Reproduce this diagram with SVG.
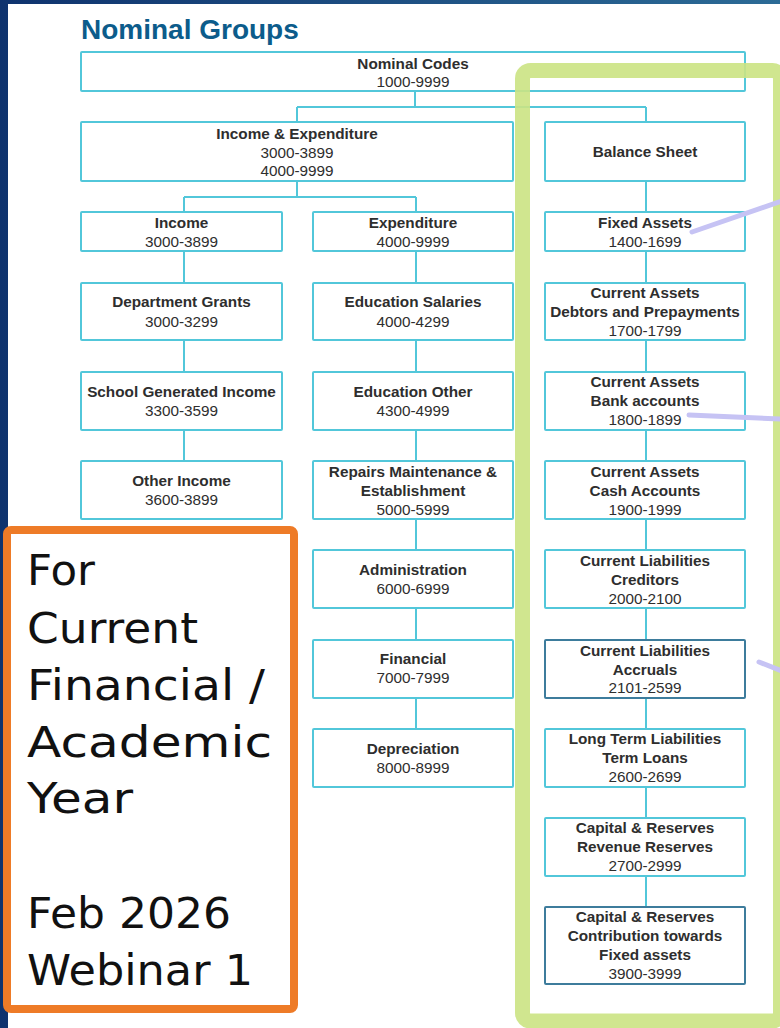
<svg xmlns="http://www.w3.org/2000/svg" width="780" height="1028" viewBox="0 0 780 1028">
<defs>
<linearGradient id="bg" x1="0" y1="0" x2="1" y2="0">
<stop offset="0" stop-color="#0f336e"/>
<stop offset="1" stop-color="#2c6b96"/>
</linearGradient>
<style>
.box{fill:#ffffff;stroke:#52c7da;stroke-width:2}
.dark{stroke:#3d7c9c}
.con{fill:none;stroke:#52c7da;stroke-width:2}
.lb{font-family:"Liberation Sans",Arial,sans-serif;font-size:15.3px;font-weight:bold;fill:#2e2e2e;text-anchor:middle}
.nm{font-family:"Liberation Sans",Arial,sans-serif;font-size:15.3px;fill:#2e2e2e;text-anchor:middle}
.big{font-family:"DejaVu Sans","Liberation Sans",sans-serif;font-size:42px;fill:#111111}
.lav{fill:none;stroke:#c6c3f4;stroke-width:5;stroke-linecap:round}
</style>
</defs>
<rect x="0" y="0" width="780" height="1028" fill="url(#bg)"/>
<rect x="8" y="4" width="772" height="1024" fill="#ffffff"/>
<text x="81" y="39" font-family="Liberation Sans,Arial,sans-serif" font-size="28" font-weight="bold" fill="#0c5c8b">Nominal Groups</text>

<g id="connectors">
<path class="con" d="M415 91V107M297 107H646M297 107V122M646 107V122"/>
<path class="con" d="M297 181V197M184 197H416M184 197V212M416 197V212"/>
<path class="con" d="M184 251V283M184 340V372M184 430V461"/>
<path class="con" d="M416 251V283M416 340V372M416 430V461M416 519V550M416 608V640M416 698V729"/>
<path class="con" d="M646 181V212M646 251V283M646 340V372M646 430V461M646 519V550M646 608V640M646 698V729M646 787V818M646 876V907"/>
</g>

<g id="nominal-codes"><rect class="box" x="81" y="52" width="664" height="39" rx="1"/>
<text class="lb" x="413" y="68.5">Nominal Codes</text><text class="nm" x="413" y="87">1000-9999</text></g>

<g id="income-expenditure"><rect class="box" x="81" y="122" width="432" height="59" rx="1"/>
<text class="lb" x="297" y="139">Income &amp; Expenditure</text><text class="nm" x="297" y="157.5">3000-3899</text><text class="nm" x="297" y="176">4000-9999</text></g>

<g id="balance-sheet"><rect class="box" x="545" y="122" width="200" height="59" rx="1"/>
<text class="lb" x="645" y="157">Balance Sheet</text></g>

<g id="income"><rect class="box" x="81" y="212" width="201" height="39" rx="1"/>
<text class="lb" x="181.5" y="228">Income</text><text class="nm" x="181.5" y="247">3000-3899</text></g>
<g id="expenditure"><rect class="box" x="313" y="212" width="200" height="39" rx="1"/>
<text class="lb" x="413" y="228">Expenditure</text><text class="nm" x="413" y="247">4000-9999</text></g>
<g id="fixed-assets"><rect class="box" x="545" y="212" width="200" height="39" rx="1"/>
<text class="lb" x="645" y="228">Fixed Assets</text><text class="nm" x="645" y="247">1400-1699</text></g>

<g id="department-grants"><rect class="box" x="81" y="283" width="201" height="57" rx="1"/>
<text class="lb" x="181.5" y="307.3">Department Grants</text><text class="nm" x="181.5" y="326.7">3000-3299</text></g>
<g id="education-salaries"><rect class="box" x="313" y="283" width="200" height="57" rx="1"/>
<text class="lb" x="413" y="307.3">Education Salaries</text><text class="nm" x="413" y="326.7">4000-4299</text></g>
<g id="debtors"><rect class="box" x="545" y="283" width="200" height="57" rx="1"/>
<text class="lb" x="645" y="298.3">Current Assets</text><text class="lb" x="645" y="317.3">Debtors and Prepayments</text><text class="nm" x="645" y="336">1700-1799</text></g>

<g id="school-generated-income"><rect class="box" x="81" y="372" width="201" height="58" rx="1"/>
<text class="lb" x="181.5" y="397">School Generated Income</text><text class="nm" x="181.5" y="416">3300-3599</text></g>
<g id="education-other"><rect class="box" x="313" y="372" width="200" height="58" rx="1"/>
<text class="lb" x="413" y="397">Education Other</text><text class="nm" x="413" y="416">4300-4999</text></g>
<g id="bank-accounts"><rect class="box" x="545" y="372" width="200" height="58" rx="1"/>
<text class="lb" x="645" y="387">Current Assets</text><text class="lb" x="645" y="406">Bank accounts</text><text class="nm" x="645" y="425">1800-1899</text></g>

<g id="other-income"><rect class="box" x="81" y="461" width="201" height="58" rx="1"/>
<text class="lb" x="181.5" y="486">Other Income</text><text class="nm" x="181.5" y="505">3600-3899</text></g>
<g id="repairs"><rect class="box" x="313" y="461" width="200" height="58" rx="1"/>
<text class="lb" x="413" y="476.7">Repairs Maintenance &amp;</text><text class="lb" x="413" y="496">Establishment</text><text class="nm" x="413" y="514.5">5000-5999</text></g>
<g id="cash-accounts"><rect class="box" x="545" y="461" width="200" height="58" rx="1"/>
<text class="lb" x="645" y="476.7">Current Assets</text><text class="lb" x="645" y="496">Cash Accounts</text><text class="nm" x="645" y="514.5">1900-1999</text></g>

<g id="administration"><rect class="box" x="313" y="550" width="200" height="58" rx="1"/>
<text class="lb" x="413" y="575">Administration</text><text class="nm" x="413" y="594">6000-6999</text></g>
<g id="creditors"><rect class="box" x="545" y="550" width="200" height="58" rx="1"/>
<text class="lb" x="645" y="565.7">Current Liabilities</text><text class="lb" x="645" y="585">Creditors</text><text class="nm" x="645" y="603.5">2000-2100</text></g>

<g id="financial"><rect class="box" x="313" y="640" width="200" height="58" rx="1"/>
<text class="lb" x="413" y="664.3">Financial</text><text class="nm" x="413" y="683.3">7000-7999</text></g>
<g id="accruals"><rect class="box dark" x="545" y="640" width="200" height="58" rx="1"/>
<text class="lb" x="645" y="655.5">Current Liabilities</text><text class="lb" x="645" y="674.5">Accruals</text><text class="nm" x="645" y="693">2101-2599</text></g>

<g id="depreciation"><rect class="box" x="313" y="729" width="200" height="58" rx="1"/>
<text class="lb" x="413" y="753.5">Depreciation</text><text class="nm" x="413" y="772.5">8000-8999</text></g>
<g id="long-term-liabilities"><rect class="box" x="545" y="729" width="200" height="58" rx="1"/>
<text class="lb" x="645" y="744">Long Term Liabilities</text><text class="lb" x="645" y="763">Term Loans</text><text class="nm" x="645" y="782">2600-2699</text></g>

<g id="revenue-reserves"><rect class="box" x="545" y="818" width="200" height="58" rx="1"/>
<text class="lb" x="645" y="833">Capital &amp; Reserves</text><text class="lb" x="645" y="852">Revenue Reserves</text><text class="nm" x="645" y="871">2700-2999</text></g>

<g id="contribution"><rect class="box dark" x="545" y="907" width="200" height="77" rx="1"/>
<text class="lb" x="645" y="922">Capital &amp; Reserves</text><text class="lb" x="645" y="941">Contribution towards</text><text class="lb" x="645" y="960">Fixed assets</text><text class="nm" x="645" y="979">3900-3999</text></g>

<g id="balance-sheet-highlight">
<rect x="522.5" y="70.5" width="258" height="950.5" rx="8" fill="none" stroke="#cbe383" stroke-width="15" opacity="0.9"/>
</g>

<g id="pointers">
<path class="lav" d="M692 232L782 201"/>
<path class="lav" d="M689 415L782 419"/>
<path class="lav" d="M759 662L782 671"/>
</g>

<g id="note">
<rect x="7" y="530" width="287" height="479" rx="4" fill="#ffffff" stroke="#ee7b27" stroke-width="8"/>
<text class="big" x="27" y="585" textLength="68" lengthAdjust="spacingAndGlyphs">For</text>
<text class="big" x="27" y="643" textLength="171" lengthAdjust="spacingAndGlyphs">Current</text>
<text class="big" x="27" y="700" textLength="238" lengthAdjust="spacingAndGlyphs">Financial /</text>
<text class="big" x="27" y="757" textLength="245" lengthAdjust="spacingAndGlyphs">Academic</text>
<text class="big" x="27" y="813" textLength="106" lengthAdjust="spacingAndGlyphs">Year</text>
<text class="big" x="27" y="928" textLength="204" lengthAdjust="spacingAndGlyphs">Feb 2026</text>
<text class="big" x="27" y="985" textLength="226" lengthAdjust="spacingAndGlyphs">Webinar 1</text>
</g>
</svg>
